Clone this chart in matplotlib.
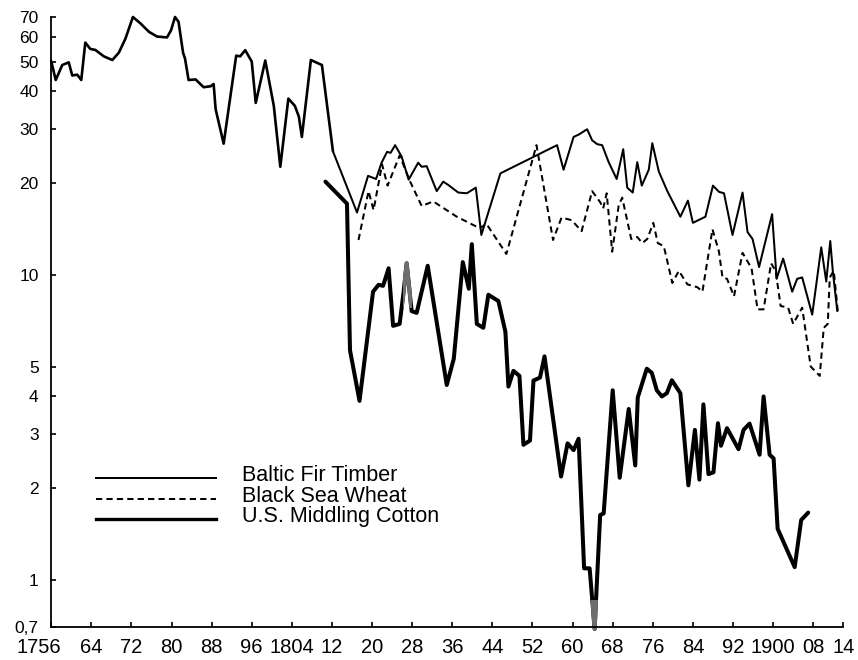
import matplotlib
matplotlib.use("Agg")
import matplotlib.pyplot as plt
from matplotlib.lines import Line2D
from matplotlib.patches import Rectangle
from matplotlib.transforms import ScaledTranslation

plt.rcParams['font.family'] = ['Liberation Sans', 'DejaVu Sans']
plt.rcParams['lines.scale_dashes'] = False

# ---------------- data ----------------
timber_years = [1756.0, 1756.9, 1758.2, 1759.5, 1760.2, 1761.2, 1762.0, 1762.8, 1763.8, 1764.8,
                1766.5, 1768.2, 1769.5, 1770.8, 1772.3, 1773.8, 1775.5, 1777.1, 1779.1, 1779.9,
                1780.7, 1781.4, 1782.3, 1782.7, 1783.4, 1784.8, 1786.4, 1787.8, 1788.4, 1788.8,
                1790.4, 1792.9, 1793.7, 1794.7, 1796.0, 1796.8, 1798.7, 1800.4, 1801.7, 1803.3,
                1804.6, 1805.4, 1806.0, 1807.8, 1810.0, 1812.2, 1817.0, 1819.2, 1820.8, 1821.9,
                1823.0, 1823.7, 1824.6, 1825.9, 1827.3, 1829.2, 1829.9, 1830.9, 1832.9, 1834.2,
                1835.2, 1837.2, 1838.9, 1840.7, 1841.8, 1845.6, 1856.9, 1858.2, 1860.2, 1861.2,
                1862.9, 1863.9, 1864.9, 1865.9, 1867.2, 1868.8, 1870.1, 1870.9, 1872.0, 1872.9,
                1873.8, 1875.2, 1875.9, 1877.2, 1878.9, 1881.5, 1883.0, 1884.0, 1886.5, 1888.0,
                1889.2, 1890.2, 1891.9, 1893.9, 1894.9, 1895.9, 1897.2, 1899.8, 1900.7, 1902.0,
                1903.8, 1904.8, 1905.8, 1907.8, 1909.6, 1910.6, 1911.4, 1911.9, 1912.8]
timber_vals = [50.2, 43.5, 48.7, 49.7, 45.0, 45.3, 43.5, 57.7, 55.0, 54.6,
               52.0, 50.6, 53.5, 59.4, 70.0, 66.7, 62.6, 60.4, 60.0, 63.3,
               70.0, 67.5, 53.5, 51.1, 43.5, 43.7, 41.2, 41.5, 42.2, 34.9,
               26.9, 52.3, 52.0, 54.5, 50.0, 36.6, 50.4, 35.8, 22.6, 37.8,
               35.8, 33.0, 28.3, 50.6, 48.7, 25.4, 16.0, 21.1, 20.6, 23.3,
               25.3, 25.1, 26.6, 24.4, 20.5, 23.3, 22.6, 22.7, 18.8, 20.2,
               19.7, 18.6, 18.5, 19.3, 13.5, 21.5, 26.6, 22.1, 28.3, 28.8,
               30.0, 27.6, 26.8, 26.6, 23.4, 20.6, 25.8, 19.3, 18.6, 23.4,
               19.6, 22.1, 27.0, 21.8, 18.8, 15.5, 17.5, 14.8, 15.5, 19.6,
               18.7, 18.5, 13.5, 18.6, 13.8, 13.1, 10.6, 15.8, 9.7, 11.3,
               8.8, 9.7, 9.8, 7.4, 12.3, 9.5, 12.9, 10.3, 7.6]

wheat_years = [1817.3, 1819.3, 1820.3, 1822.0, 1823.1, 1825.5, 1827.6, 1829.9, 1832.2, 1836.9,
               1841.5, 1842.8, 1846.8, 1852.8, 1856.1, 1857.8, 1859.8, 1861.8, 1863.9, 1865.5,
               1866.1, 1866.8, 1867.9, 1869.2, 1869.9, 1871.7, 1872.9, 1873.9, 1874.9, 1876.1,
               1877.0, 1878.2, 1879.9, 1881.2, 1882.9, 1884.9, 1885.9, 1887.9, 1889.2, 1889.9,
               1890.8, 1892.2, 1893.9, 1895.7, 1896.9, 1898.1, 1899.6, 1900.5, 1901.5, 1903.0,
               1904.0, 1905.8, 1907.5, 1909.3, 1910.1, 1910.9, 1911.3, 1912.1, 1912.9]
wheat_vals = [13.0, 18.8, 16.3, 23.0, 19.6, 24.6, 20.2, 16.8, 17.4, 15.5,
              14.2, 14.7, 11.7, 26.6, 13.0, 15.4, 15.1, 13.9, 18.8, 17.3,
              16.5, 18.5, 11.9, 16.9, 17.9, 13.1, 13.3, 12.7, 13.1, 14.8,
              12.7, 12.4, 9.4, 10.3, 9.3, 9.1, 8.8, 14.1, 11.9, 9.8,
              9.7, 8.5, 11.8, 10.5, 7.7, 7.7, 10.9, 10.3, 7.9, 7.8,
              6.9, 7.8, 5.0, 4.66, 6.7, 6.9, 9.8, 10.3, 7.6]

cotton_years = [1810.7, 1815.0, 1815.6, 1817.5, 1820.2, 1821.3, 1822.2, 1823.3, 1824.2, 1825.5,
                1826.3, 1826.9, 1827.9, 1828.9, 1831.1, 1834.9, 1836.3, 1838.1, 1839.3, 1839.9,
                1840.9, 1842.2, 1843.2, 1845.2, 1846.6, 1847.2, 1848.2, 1849.4, 1850.2, 1851.5,
                1852.2, 1853.5, 1854.4, 1857.7, 1859.0, 1860.2, 1861.2, 1862.3, 1863.4, 1864.4,
                1865.5, 1866.2, 1868.0, 1869.4, 1871.2, 1872.5, 1873.0, 1874.8, 1875.8, 1876.8,
                1877.8, 1878.8, 1879.8, 1881.5, 1883.1, 1884.4, 1885.3, 1886.1, 1887.1, 1888.1,
                1889.0, 1889.6, 1890.8, 1893.1, 1894.1, 1895.3, 1897.3, 1898.1, 1899.3, 1900.1,
                1900.9, 1904.3, 1905.6, 1907.0]
cotton_vals = [20.2, 17.1, 5.66, 3.86, 8.8, 9.27, 9.2, 10.5, 6.8, 6.9,
               8.8, 10.9, 7.6, 7.5, 10.7, 4.35, 5.3, 11.0, 9.0, 12.6,
               6.9, 6.7, 8.6, 8.2, 6.5, 4.3, 4.84, 4.66, 2.77, 2.86,
               4.5, 4.6, 5.4, 2.18, 2.8, 2.66, 2.9, 1.09, 1.09, 0.69,
               1.63, 1.65, 4.18, 2.16, 3.63, 2.37, 3.96, 4.92, 4.77, 4.18,
               3.99, 4.09, 4.51, 4.09, 2.04, 3.1, 2.13, 3.76, 2.22, 2.25,
               3.26, 2.75, 3.14, 2.68, 3.1, 3.25, 2.57, 3.99, 2.57, 2.5,
               1.47, 1.10, 1.57, 1.66]

series_labels = ['Baltic Fir Timber', 'Black Sea Wheat', 'U.S. Middling Cotton']

xtick_years = [1756, 1764, 1772, 1780, 1788, 1796, 1804, 1812, 1820, 1828, 1836, 1844,
               1852, 1860, 1868, 1876, 1884, 1892, 1900, 1908, 1914]
xtick_labels = ['1756', '64', '72', '80', '88', '96', '1804', '12', '20', '28', '36', '44',
                '52', '60', '68', '76', '84', '92', '1900', '08', '14']
ytick_vals = [0.7, 1, 2, 3, 4, 5, 10, 20, 30, 40, 50, 60, 70]
ytick_labels = ['0,7', '1', '2', '3', '4', '5', '10', '20', '30', '40', '50', '60', '70']

# ---------------- figure ----------------
W, H = 858, 660
fig = plt.figure(figsize=(W / 100, H / 100), dpi=100)
ax = fig.add_axes([51.2 / W, 33 / H, (843.3 - 51.2) / W, 610 / H])
ax.set_yscale('log')
ax.set_xlim(1756, 1914)
ax.set_ylim(0.7, 70)

# split timber at 1812 (earlier part drawn heavier)
k = timber_years.index(1812.2)
ax.plot(timber_years[:k + 1], timber_vals[:k + 1], color='black', lw=1.9,
        solid_joinstyle='round', solid_capstyle='round', clip_on=False)
ax.plot(timber_years[k:], timber_vals[k:], color='black', lw=1.45,
        solid_joinstyle='round', solid_capstyle='round', clip_on=False)
ax.plot(wheat_years, wheat_vals, color='black', lw=1.45, dashes=(4.5, 3.0),
        dash_joinstyle='round')
ax.plot(cotton_years, cotton_vals, color='black', lw=2.9,
        solid_joinstyle='round', solid_capstyle='round', clip_on=False)

# grey (faded) bits of the cotton line as in the print
for (x0, x1, y0, y1) in [(1826.2, 1828.0, 7.8, 12.0), (1863.6, 1865.2, 0.6, 0.86)]:
    g, = ax.plot(cotton_years, cotton_vals, color='#6e6e6e', lw=2.9,
                 solid_joinstyle='round', clip_on=True)
    r = Rectangle((x0, y0), x1 - x0, y1 - y0, transform=ax.transData)
    g.set_clip_path(r)

# axes styling
for s in ['top', 'right']:
    ax.spines[s].set_visible(False)
for s in ['left', 'bottom']:
    ax.spines[s].set_linewidth(1.3)
ax.minorticks_off()
ax.set_xticks(xtick_years)
ax.set_xticklabels(xtick_labels)
ax.set_yticks(ytick_vals)
ax.set_yticklabels(ytick_labels)
ax.yaxis.set_minor_locator(matplotlib.ticker.NullLocator())
ax.tick_params(axis='both', direction='in', length=3.5, width=1.2)
ax.tick_params(axis='x', pad=8, labelsize=14.5)
ax.tick_params(axis='y', pad=9, labelsize=12.5)

# shift the first x label left as in the reference
lab0 = ax.get_xticklabels()[0]
lab0.set_transform(lab0.get_transform() + ScaledTranslation(-12 / 100, 0, fig.dpi_scale_trans))

# ---------------- legend (drawn manually) ----------------
leg_styles = [dict(lw=1.45), dict(lw=1.45, dashes=(4.5, 3.0)), dict(lw=2.4)]
line_y = [478, 499, 519]
text_y = [481, 502, 522]
for lab, st, ly, ty in zip(series_labels, leg_styles, line_y, text_y):
    fig.add_artist(Line2D([96 / W, 216 / W], [1 - ly / H, 1 - ly / H],
                          transform=fig.transFigure, color='black', **st))
    fig.text(242 / W, 1 - ty / H, lab, fontsize=15.5, va='baseline', ha='left')

fig.savefig('out.png', dpi=100)
